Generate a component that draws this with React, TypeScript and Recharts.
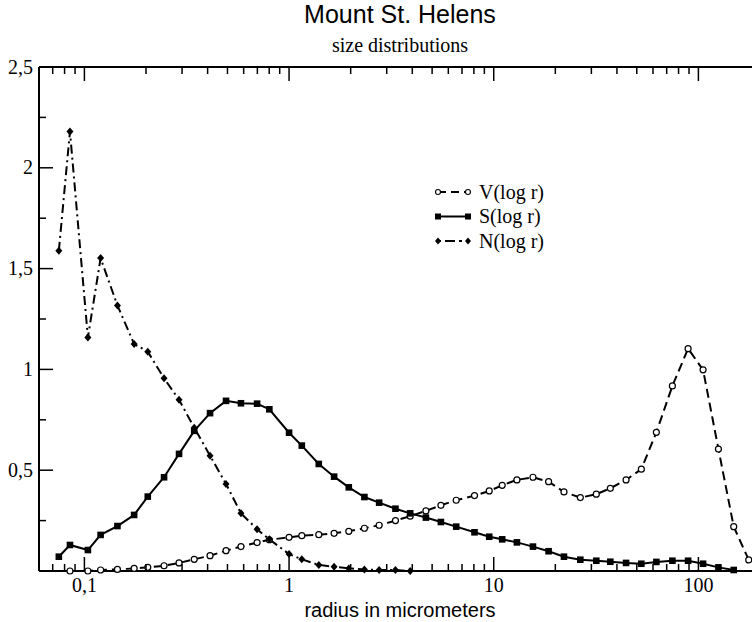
import React from 'react';
import { LineChart, Line, XAxis, YAxis, Legend } from 'recharts';

// radius grid (micrometers)
const radius = [
  0.075, 0.085, 0.104, 0.12, 0.145, 0.175, 0.204, 0.245, 0.29, 0.344, 0.411, 0.492, 0.582, 0.698, 0.801,
  1.0, 1.154, 1.397, 1.66, 1.958, 2.334, 2.755, 3.31, 3.906, 4.662, 5.519, 6.556, 8.056, 9.506, 11.0,
  12.98, 15.55, 18.54, 22.04, 26.49, 31.71, 37.13, 44.32, 52.63, 62.33, 74.64, 89.06, 105.4, 125.3, 148.8, 176.2,
];

const volume = [
  null, 0.0, 0.0, 0.005, 0.008, 0.013, 0.018, 0.026, 0.04, 0.058, 0.076, 0.101, 0.121, 0.141, 0.155,
  0.167, 0.175, 0.18, 0.187, 0.197, 0.212, 0.227, 0.25, 0.272, 0.298, 0.326, 0.351, 0.374, 0.397, 0.425,
  0.452, 0.465, 0.443, 0.392, 0.364, 0.381, 0.41, 0.452, 0.505, 0.688, 0.918, 1.103, 0.998, 0.605, 0.22, 0.055,
];

const surface = [
  0.071, 0.129, 0.104, 0.179, 0.223, 0.278, 0.369, 0.465, 0.581, 0.695, 0.783, 0.844, 0.832, 0.83, 0.802,
  0.686, 0.622, 0.531, 0.468, 0.415, 0.367, 0.339, 0.309, 0.286, 0.265, 0.243, 0.22, 0.192, 0.17, 0.157,
  0.142, 0.121, 0.098, 0.071, 0.056, 0.051, 0.046, 0.04, 0.036, 0.045, 0.051, 0.051, 0.036, 0.018, 0.005, null,
];

const number = [
  1.588, 2.18, 1.158, 1.552, 1.317, 1.126, 1.088, 0.956, 0.849, 0.711, 0.572, 0.432, 0.286, 0.207, 0.157,
  0.084, 0.058, 0.03, 0.021, 0.013, 0.008, 0.005, 0.005, 0.0,
];

const xTicks = [
  0.07, 0.08, 0.09, 0.1, 0.2, 0.3, 0.4, 0.5, 0.6, 0.7, 0.8, 0.9, 1, 2, 3, 4, 5, 6, 7, 8, 9,
  10, 20, 30, 40, 50, 60, 70, 80, 90, 100,
];
const xMajor = [0.1, 1, 10, 100];
const xLabels = ['0,1', '1', '10', '100'];

const yTicks = [0, 0.25, 0.5, 0.75, 1, 1.25, 1.5, 1.75, 2, 2.25, 2.5];
const yMajor = [0, 0.5, 1, 1.5, 2, 2.5];
const yLabels = ['', '0,5', '1', '1,5', '2', '2,5'];

const data = radius.map((r, i) => ({
  r,
  v: volume[i] ?? null,
  s: surface[i] ?? null,
  n: number[i] ?? null,
}));

const SERIF = '"Liberation Serif", "Times New Roman", Times, serif';
const SANS = '"Liberation Sans", Arial, Helvetica, sans-serif';

function BottomTick({ x, y, payload }: any) {
  const i = xMajor.indexOf(payload.value);
  return (
    <g>
      <line x1={x} x2={x} y1={y} y2={y - (i >= 0 ? 14 : 7)} stroke="#000" strokeWidth={1.5} />
      {i >= 0 && (
        <text x={x} y={y + 21} textAnchor="middle" fontFamily={SERIF} fontSize={20} fill="#000">
          {xLabels[i]}
        </text>
      )}
    </g>
  );
}

function TopTick({ x, y, payload }: any) {
  const major = xMajor.includes(payload.value);
  return <line x1={x} x2={x} y1={y} y2={y + (major ? 14 : 7)} stroke="#000" strokeWidth={1.5} />;
}

function LeftTick({ x, y, payload }: any) {
  const i = yMajor.indexOf(payload.value);
  return (
    <g>
      <line x1={x} x2={x + (i >= 0 ? 14 : 7)} y1={y} y2={y} stroke="#000" strokeWidth={1.5} />
      {i >= 0 && yLabels[i] && (
        <text x={x - 6} y={y + 6.5} textAnchor="end" fontFamily={SERIF} fontSize={20} fill="#000">
          {yLabels[i]}
        </text>
      )}
    </g>
  );
}

function RightTick({ x, y, payload }: any) {
  const major = yMajor.includes(payload.value);
  return <line x1={x} x2={x - (major ? 14 : 7)} y1={y} y2={y} stroke="#000" strokeWidth={1.5} />;
}

function circleDot(p: any) {
  if (p.value == null || p.cy == null) return <g key={'v' + p.index} />;
  return <circle key={'v' + p.index} cx={p.cx} cy={p.cy} r={3} fill="#fff" stroke="#000" strokeWidth={1.2} />;
}

function squareDot(p: any) {
  if (p.value == null || p.cy == null) return <g key={'s' + p.index} />;
  return <rect key={'s' + p.index} x={p.cx - 3.3} y={p.cy - 3.3} width={6.6} height={6.6} fill="#000" />;
}

function diamondDot(p: any) {
  if (p.value == null || p.cy == null) return <g key={'n' + p.index} />;
  const { cx, cy } = p;
  return (
    <polygon
      key={'n' + p.index}
      points={`${cx},${cy - 4} ${cx + 3.5},${cy} ${cx},${cy + 4} ${cx - 3.5},${cy}`}
      fill="#000"
    />
  );
}

const legendRows = [
  { name: 'V(log r)', dash: '8 5', marker: 'circle' },
  { name: 'S(log r)', dash: undefined, marker: 'square' },
  { name: 'N(log r)', dash: '3 4 10 4', marker: 'diamond' },
];

function Marker({ kind, x, y }: { kind: string; x: number; y: number }) {
  if (kind === 'circle') return <circle cx={x} cy={y} r={2.5} fill="#fff" stroke="#000" strokeWidth={1.1} />;
  if (kind === 'square') return <rect x={x - 3} y={y - 3} width={6} height={6} fill="#000" />;
  return <polygon points={`${x},${y - 3.5} ${x + 3},${y} ${x},${y + 3.5} ${x - 3},${y}`} fill="#000" />;
}

function LegendBox() {
  return (
    <svg width={140} height={80}>
      {legendRows.map((row, i) => {
        const y = 16 + i * 24.5;
        return (
          <g key={row.name}>
            <line x1={8} x2={38} y1={y} y2={y} stroke="#000" strokeWidth={2} strokeDasharray={row.dash} />
            <Marker kind={row.marker} x={8} y={y} />
            <Marker kind={row.marker} x={38} y={y} />
            <text x={49} y={y + 6.5} fontFamily={SERIF} fontSize={20} fill="#000">
              {row.name}
            </text>
          </g>
        );
      })}
    </svg>
  );
}

export default function App() {
  return (
    <div
      style={{
        position: 'fixed',
        left: 0,
        top: 0,
        width: 752,
        height: 622,
        overflow: 'hidden',
        background: '#fff',
      }}
    >
      <LineChart width={800} height={622} data={data} margin={{ top: 0, right: 0, bottom: 0, left: 0 }}>
        <XAxis
          dataKey="r"
          type="number"
          scale="log"
          domain={[0.06, 200]}
          ticks={xTicks}
          interval={0}
          tickSize={0}
          tickMargin={0}
          tick={BottomTick}
          height={51}
          axisLine={{ stroke: '#000', strokeWidth: 2 }}
          allowDataOverflow
        />
        <XAxis
          xAxisId="top"
          orientation="top"
          dataKey="r"
          type="number"
          scale="log"
          domain={[0.06, 200]}
          ticks={xTicks}
          interval={0}
          tickSize={0}
          tickMargin={0}
          tick={TopTick}
          height={67}
          axisLine={{ stroke: '#000', strokeWidth: 2 }}
          allowDataOverflow
        />
        <YAxis
          type="number"
          domain={[0, 2.5]}
          ticks={yTicks}
          interval={0}
          tickSize={0}
          tickMargin={0}
          tick={LeftTick}
          width={39}
          axisLine={{ stroke: '#000', strokeWidth: 2 }}
        />
        <YAxis
          yAxisId="r"
          orientation="right"
          type="number"
          domain={[0, 2.5]}
          ticks={yTicks}
          interval={0}
          tickSize={0}
          tickMargin={0}
          tick={RightTick}
          width={40}
          axisLine={{ stroke: '#000', strokeWidth: 2 }}
        />
        <Legend
          layout="vertical"
          align="center"
          verticalAlign="middle"
          content={<LegendBox />}
          wrapperStyle={{ left: 430, top: 176, width: 140, height: 80 }}
        />
        <Line
          name="V(log r)"
          dataKey="v"
          stroke="#000"
          strokeWidth={2}
          strokeDasharray="9 5"
          dot={circleDot}
          isAnimationActive={false}
        />
        <Line
          name="S(log r)"
          dataKey="s"
          stroke="#000"
          strokeWidth={2}
          dot={squareDot}
          isAnimationActive={false}
        />
        <Line
          name="N(log r)"
          dataKey="n"
          stroke="#000"
          strokeWidth={2}
          strokeDasharray="9 4 2 4"
          dot={diamondDot}
          isAnimationActive={false}
        />
      </LineChart>
      <svg
        width={752}
        height={622}
        style={{ position: 'absolute', left: 0, top: 0, pointerEvents: 'none' }}
      >
        <text x={400} y={23} textAnchor="middle" fontFamily={SANS} fontSize={25} fill="#000">
          Mount St. Helens
        </text>
        <text x={400} y={52} textAnchor="middle" fontFamily={SERIF} fontSize={20} fill="#000">
          size distributions
        </text>
        <text x={400} y={617} textAnchor="middle" fontFamily={SANS} fontSize={20} fill="#000">
          radius in micrometers
        </text>
      </svg>
    </div>
  );
}
